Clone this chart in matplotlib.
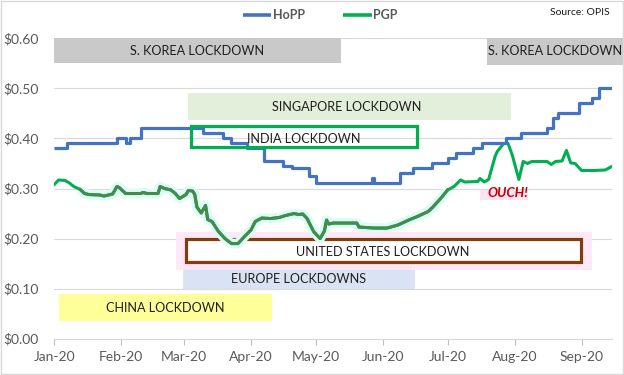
import matplotlib
matplotlib.use('Agg')
import matplotlib.pyplot as plt
import matplotlib.dates as mdates
from matplotlib.patches import Rectangle
from matplotlib.lines import Line2D
import pandas as pd

plt.rcParams['font.family'] = ['Lato', 'DejaVu Sans']

# ---------------- data ----------------
hopp_dates = ['2020-01-01', '2020-01-07', '2020-01-30', '2020-02-03', '2020-02-05', '2020-02-10',
              '2020-03-10', '2020-03-19', '2020-03-23', '2020-03-30', '2020-04-07', '2020-04-16',
              '2020-04-20', '2020-04-28', '2020-05-01', '2020-05-27', '2020-05-28', '2020-06-09',
              '2020-06-15', '2020-06-24', '2020-07-01', '2020-07-05', '2020-07-13', '2020-07-17',
              '2020-07-28', '2020-08-04', '2020-08-16', '2020-08-19', '2020-08-21', '2020-08-31',
              '2020-09-06', '2020-09-09', '2020-09-15']
hopp_values = [0.38, 0.39, 0.40, 0.39, 0.40, 0.42,
               0.41, 0.40, 0.39, 0.38, 0.355, 0.345,
               0.34, 0.325, 0.31, 0.32, 0.31, 0.33,
               0.34, 0.35, 0.36, 0.37, 0.38, 0.39,
               0.40, 0.41, 0.42, 0.44, 0.45, 0.47,
               0.48, 0.50, 0.50]

pgp_dates = ['2020-01-01', '2020-01-03', '2020-01-06', '2020-01-08', '2020-01-10', '2020-01-13',
             '2020-01-15', '2020-01-17', '2020-01-22', '2020-01-24', '2020-01-28', '2020-01-30',
             '2020-01-31', '2020-02-03', '2020-02-10', '2020-02-11', '2020-02-13', '2020-02-18',
             '2020-02-19', '2020-02-21', '2020-02-24', '2020-02-26', '2020-02-28', '2020-03-02',
             '2020-03-03', '2020-03-05', '2020-03-06', '2020-03-07', '2020-03-09', '2020-03-11',
             '2020-03-12', '2020-03-14', '2020-03-17', '2020-03-20', '2020-03-23', '2020-03-26',
             '2020-03-29', '2020-04-01', '2020-04-03', '2020-04-06', '2020-04-10', '2020-04-14',
             '2020-04-17', '2020-04-21', '2020-04-23', '2020-04-25', '2020-04-27', '2020-04-30',
             '2020-05-03', '2020-05-05', '2020-05-06', '2020-05-07', '2020-05-09', '2020-05-20',
             '2020-05-21', '2020-05-28', '2020-06-03', '2020-06-08', '2020-06-13', '2020-06-17',
             '2020-06-22', '2020-06-24', '2020-06-28', '2020-07-01', '2020-07-04', '2020-07-07',
             '2020-07-09', '2020-07-15', '2020-07-16', '2020-07-18', '2020-07-20', '2020-07-23',
             '2020-07-24', '2020-07-27', '2020-07-29', '2020-07-31', '2020-08-03', '2020-08-05',
             '2020-08-07', '2020-08-09', '2020-08-16', '2020-08-18', '2020-08-20', '2020-08-23',
             '2020-08-25', '2020-08-27', '2020-08-29', '2020-09-01', '2020-09-07', '2020-09-12',
             '2020-09-15']
pgp_values = [0.308, 0.317, 0.316, 0.311, 0.304, 0.298,
              0.290, 0.288, 0.287, 0.285, 0.289, 0.304,
              0.302, 0.290, 0.290, 0.292, 0.290, 0.290,
              0.304, 0.300, 0.297, 0.290, 0.280, 0.288,
              0.296, 0.295, 0.288, 0.263, 0.251, 0.266,
              0.238, 0.234, 0.214, 0.200, 0.190, 0.190,
              0.204, 0.217, 0.234, 0.241, 0.240, 0.242,
              0.246, 0.250, 0.248, 0.249, 0.240, 0.214,
              0.200, 0.215, 0.237, 0.229, 0.231, 0.231,
              0.223, 0.221, 0.221, 0.227, 0.237, 0.244,
              0.254, 0.262, 0.281, 0.297, 0.304, 0.317,
              0.313, 0.314, 0.320, 0.313, 0.318, 0.364,
              0.374, 0.390, 0.390, 0.366, 0.318, 0.354,
              0.350, 0.354, 0.354, 0.348, 0.354, 0.355,
              0.376, 0.351, 0.350, 0.336, 0.336, 0.337,
              0.344]

month_labels = ['Jan-20', 'Feb-20', 'Mar-20', 'Apr-20', 'May-20', 'Jun-20', 'Jul-20', 'Aug-20', 'Sep-20']
y_ticks = [0.0, 0.1, 0.2, 0.3, 0.4, 0.5, 0.6]

series_names = ['HoPP', 'PGP']
lockdowns = ['S. KOREA LOCKDOWN', 'S. KOREA LOCKDOWN', 'SINGAPORE LOCKDOWN', 'INDIA LOCKDOWN',
             'UNITED STATES LOCKDOWN', 'EUROPE LOCKDOWNS', 'CHINA LOCKDOWN']
callout = 'OUCH!'
source = 'Source: OPIS'

# ---------------- figure ----------------
W, H = 624, 375
fig = plt.figure(figsize=(W / 100, H / 100), dpi=100)
ax_l, ax_r, ax_t, ax_b = 54.3, 612.0, 38.3, 338.7
ax = fig.add_axes([ax_l / W, 1 - ax_b / H, (ax_r - ax_l) / W, (ax_b - ax_t) / H])

start = pd.Timestamp('2020-01-01')
def d(days):
    return mdates.date2num(start + pd.Timedelta(days=days))

ax.set_xlim(d(0), d(258.1))
ax.set_ylim(0, 0.6)

hd = pd.to_datetime(hopp_dates)
pdts = pd.to_datetime(pgp_dates)
pv = pd.Series(pgp_values, index=pdts)

BLUE = '#4472C4'
GREEN = '#00B050'
DARKGREEN = '#468A50'

# gridlines / axes
ax.set_yticks(y_ticks)
ax.yaxis.grid(True, color='#D9D9D9', linewidth=0.8, zorder=0)
ax.set_axisbelow(True)
for s in ['left', 'right', 'top']:
    ax.spines[s].set_visible(False)
ax.spines['bottom'].set_color('#D9D9D9')
ax.spines['bottom'].set_linewidth(0.8)

ax.yaxis.set_major_formatter(matplotlib.ticker.FuncFormatter(lambda v, p: f'${v:.2f}'))
ax.tick_params(axis='y', length=0, pad=11, labelsize=10, labelcolor='#595959')
ax.set_xticks(pd.date_range('2020-01-01', '2020-09-01', freq='MS'))
ax.set_xticklabels(month_labels)
ax.tick_params(axis='x', length=4.2, width=0.8, color='#BFBFBF', pad=5, labelsize=10, labelcolor='#595959')

def box(x0, x1, y0, y1, **kw):
    r = Rectangle((d(x0), y0), d(x1) - d(x0), y1 - y0, transform=ax.transData, clip_on=False, **kw)
    ax.add_patch(r)
    return r

LFS = 9.1
def label(x, y, s, **kw):
    ax.text(d(x), y, s, ha='center', va='center', fontsize=LFS, color='#1F1F1F', clip_on=False, **kw)

# lockdown boxes
box(0, 132.5, 0.551, 0.600, facecolor='#C9C9C9', edgecolor='none', zorder=1)
label(66.1, 0.5754, lockdowns[0], zorder=2)
box(200.4, 263.6, 0.547, 0.600, facecolor='#C9C9C9', edgecolor='none', zorder=1)
label(231.7, 0.5754, lockdowns[1], zorder=2)
box(62.0, 211.2, 0.437, 0.491, facecolor='#E2EFDA', edgecolor='none', zorder=1)
label(135.4, 0.463, lockdowns[2], zorder=2)
box(2.3, 100.6, 0.036, 0.089, facecolor='#FFFF99', edgecolor='none', zorder=1)
label(51.2, 0.062, lockdowns[6], zorder=2)
box(59.7, 166.9, 0.099, 0.160, facecolor='#DAE3F3', edgecolor='none', zorder=1)
label(112.9, 0.1188, lockdowns[5], zorder=2)
# US box with pink glow
box(56.2, 248.7, 0.137, 0.214, facecolor='#FFE6F8', edgecolor='none', alpha=0.85, zorder=1.2)
box(60.9, 243.6, 0.1538, 0.199, facecolor='white', edgecolor='#843C0C', linewidth=2.3, zorder=1.4)
label(152.1, 0.1728, lockdowns[4], zorder=2)
# India box (outline only)
box(63.2, 167.7, 0.383, 0.4245, facecolor='none', edgecolor=GREEN, linewidth=2.3, zorder=6)
label(115.5, 0.399, lockdowns[3], zorder=7)

# OUCH callout
box(197.0, 219.0, 0.278, 0.297, facecolor='#FFE3F3', edgecolor='none', zorder=1)
ax.text(d(209.9), 0.2915, callout, ha='center', va='center', fontsize=9.6, fontweight='bold',
        fontstyle='italic', color='#C00000', zorder=2)

# lines
ax.plot(hd, hopp_values, color=BLUE, linewidth=2.3, drawstyle='steps-post', zorder=5,
        solid_capstyle='butt', label=series_names[0])
ax.plot(pdts, pgp_values, color=GREEN, linewidth=2.2, zorder=4, solid_joinstyle='round',
        label=series_names[1])
seg = pv[(pv.index >= '2020-01-13') & (pv.index <= '2020-07-01')]
ax.plot(seg.index, seg.values, color='#DDFCF6', linewidth=7, zorder=3, solid_capstyle='butt')
ax.plot(seg.index, seg.values, color=DARKGREEN, linewidth=2.2, zorder=4.5, solid_joinstyle='round')

# legend (drawn in figure pixels)
ly = 1 - 15 / H
for (x0, x1, tx), col, name in zip([(243, 271, 272.5), (343, 372, 373.5)], [BLUE, GREEN], series_names):
    fig.add_artist(Line2D([x0 / W, x1 / W], [ly, ly], transform=fig.transFigure, color=col,
                          linewidth=2.6, solid_capstyle='butt'))
    fig.text(tx / W, ly, name, ha='left', va='center', fontsize=9, fontweight='bold', color='#595959')

fig.text(610 / W, 1 - 12.3 / H, source, ha='right', va='center', fontsize=7.5, color='#1a1a1a')

fig.add_artist(Rectangle((0.001, 0.002), 0.997, 0.995, transform=fig.transFigure, fill=False,
                         edgecolor='#D9D9D9', linewidth=1))

fig.savefig('out.png', dpi=100)
